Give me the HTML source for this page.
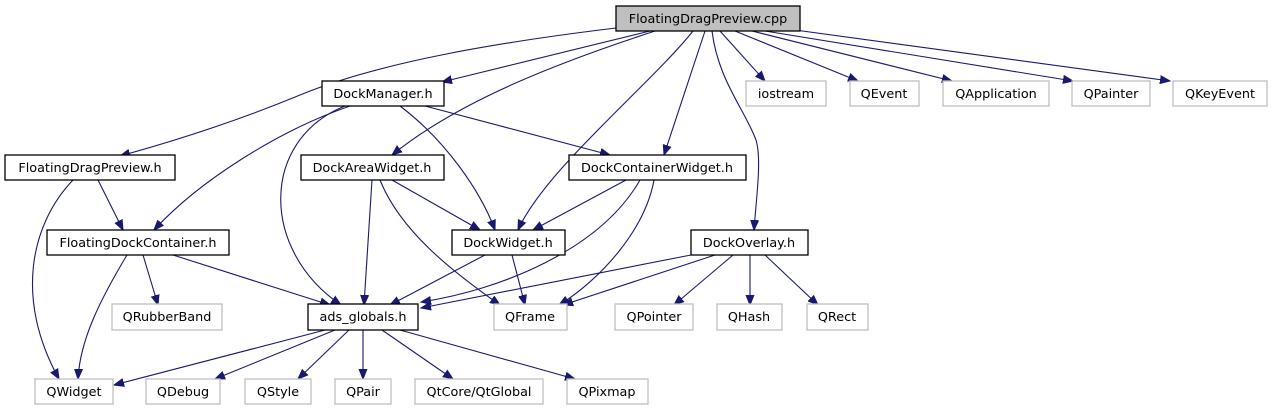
<!DOCTYPE html>
<html><head><meta charset="utf-8"><style>
html,body{margin:0;padding:0;background:#fff;}
svg{display:block;}
text{font-family:"DejaVu Sans","Liberation Sans",sans-serif;font-size:12.8px;fill:#000;}
.e{fill:none;stroke:#191970;stroke-width:1.1;}
.n{fill:#fff;stroke:#000;stroke-width:1.3;}
.g{fill:#fff;stroke:#bfbfbf;stroke-width:1.3;}
</style></head><body>
<svg width="1273" height="411" viewBox="0 0 1273 411" xmlns="http://www.w3.org/2000/svg">
<defs><marker id="a" markerUnits="userSpaceOnUse" markerWidth="12" markerHeight="10" refX="10" refY="4" orient="auto" viewBox="0 0 12 8"><path d="M0,0 L10,4 L0,8 z" fill="#191970" stroke="#191970"/></marker></defs>
<g marker-end="url(#a)">
<path class="e" d="M616,28 C500,42 380,62 300,95 C230,124 160,145 120,156"/>
<path class="e" d="M650,31 L442,82"/>
<path class="e" d="M655,31 C560,62 460,100 392,155"/>
<path class="e" d="M693,31 C650,85 545,170 518,230"/>
<path class="e" d="M705,31 L664,155"/>
<path class="e" d="M712,31 C718,80 745,110 756,140 C762,160 756,200 754,230"/>
<path class="e" d="M720,31 L765,81"/>
<path class="e" d="M735,31 L858,81"/>
<path class="e" d="M752,31 L952,81"/>
<path class="e" d="M765,31 L1073,81"/>
<path class="e" d="M795,30 L1170,81"/>
<path class="e" d="M350,106 C280,130 200,180 154,230"/>
<path class="e" d="M345,106 C260,140 260,250 341,305"/>
<path class="e" d="M400,106 C445,140 480,190 495,230"/>
<path class="e" d="M425,106 L610,155"/>
<path class="e" d="M98,180 L123,230"/>
<path class="e" d="M73,180 C30,225 15,300 59,379"/>
<path class="e" d="M372,180 L364,305"/>
<path class="e" d="M392,180 L480,230"/>
<path class="e" d="M380,180 C400,230 450,270 500,305"/>
<path class="e" d="M626,180 L533,230"/>
<path class="e" d="M640,180 C600,250 500,290 421,302"/>
<path class="e" d="M654,180 C645,230 600,280 559,305"/>
<path class="e" d="M143,255 L158,305"/>
<path class="e" d="M173,255 L330,305"/>
<path class="e" d="M127,255 C100,300 80,340 78,379"/>
<path class="e" d="M485,255 L390,305"/>
<path class="e" d="M512,255 L525,305"/>
<path class="e" d="M691,255 L421,308"/>
<path class="e" d="M715,255 L563,305"/>
<path class="e" d="M733,255 L674,305"/>
<path class="e" d="M750,255 L750,305"/>
<path class="e" d="M765,255 L818,305"/>
<path class="e" d="M325,330 L114,385"/>
<path class="e" d="M335,330 L215,379"/>
<path class="e" d="M349,330 L298,379"/>
<path class="e" d="M363,330 L363,379"/>
<path class="e" d="M382,330 L453,379"/>
<path class="e" d="M400,330 L575,379"/>
</g>
<rect x="616" y="6" width="184" height="25" fill="#bfbfbf" stroke="#000" stroke-width="1.3"/><text x="708" y="23" text-anchor="middle">FloatingDragPreview.cpp</text>
<rect class="n" x="322" y="81" width="122" height="25"/><text x="383" y="98" text-anchor="middle">DockManager.h</text>
<rect class="g" x="746" y="81" width="80" height="25"/><text x="786" y="98" text-anchor="middle">iostream</text>
<rect class="g" x="850" y="81" width="69" height="25"/><text x="884" y="98" text-anchor="middle">QEvent</text>
<rect class="g" x="943" y="81" width="106" height="25"/><text x="996" y="98" text-anchor="middle">QApplication</text>
<rect class="g" x="1072" y="81" width="78" height="25"/><text x="1111" y="98" text-anchor="middle">QPainter</text>
<rect class="g" x="1173" y="81" width="94" height="25"/><text x="1220" y="98" text-anchor="middle">QKeyEvent</text>
<rect class="n" x="5" y="155" width="170" height="25"/><text x="90" y="172" text-anchor="middle">FloatingDragPreview.h</text>
<rect class="n" x="301" y="155" width="143" height="25"/><text x="372" y="172" text-anchor="middle">DockAreaWidget.h</text>
<rect class="n" x="569" y="155" width="177" height="25"/><text x="657" y="172" text-anchor="middle">DockContainerWidget.h</text>
<rect class="n" x="47" y="230" width="182" height="25"/><text x="138" y="247" text-anchor="middle">FloatingDockContainer.h</text>
<rect class="n" x="452" y="230" width="113" height="25"/><text x="508" y="247" text-anchor="middle">DockWidget.h</text>
<rect class="n" x="691" y="230" width="117" height="25"/><text x="749" y="247" text-anchor="middle">DockOverlay.h</text>
<rect class="g" x="112" y="304" width="110" height="26"/><text x="167" y="321" text-anchor="middle">QRubberBand</text>
<rect class="n" x="308" y="304" width="110" height="26"/><text x="363" y="321" text-anchor="middle">ads_globals.h</text>
<rect class="g" x="494" y="304" width="73" height="26"/><text x="530" y="321" text-anchor="middle">QFrame</text>
<rect class="g" x="615" y="304" width="78" height="26"/><text x="654" y="321" text-anchor="middle">QPointer</text>
<rect class="g" x="717" y="304" width="65" height="26"/><text x="749" y="321" text-anchor="middle">QHash</text>
<rect class="g" x="807" y="304" width="61" height="26"/><text x="837" y="321" text-anchor="middle">QRect</text>
<rect class="g" x="35" y="379" width="78" height="25"/><text x="74" y="396" text-anchor="middle">QWidget</text>
<rect class="g" x="146" y="379" width="74" height="25"/><text x="183" y="396" text-anchor="middle">QDebug</text>
<rect class="g" x="245" y="379" width="66" height="25"/><text x="278" y="396" text-anchor="middle">QStyle</text>
<rect class="g" x="335" y="379" width="56" height="25"/><text x="363" y="396" text-anchor="middle">QPair</text>
<rect class="g" x="415" y="379" width="128" height="25"/><text x="479" y="396" text-anchor="middle">QtCore/QtGlobal</text>
<rect class="g" x="567" y="379" width="81" height="25"/><text x="607" y="396" text-anchor="middle">QPixmap</text>
</svg>
</body></html>
